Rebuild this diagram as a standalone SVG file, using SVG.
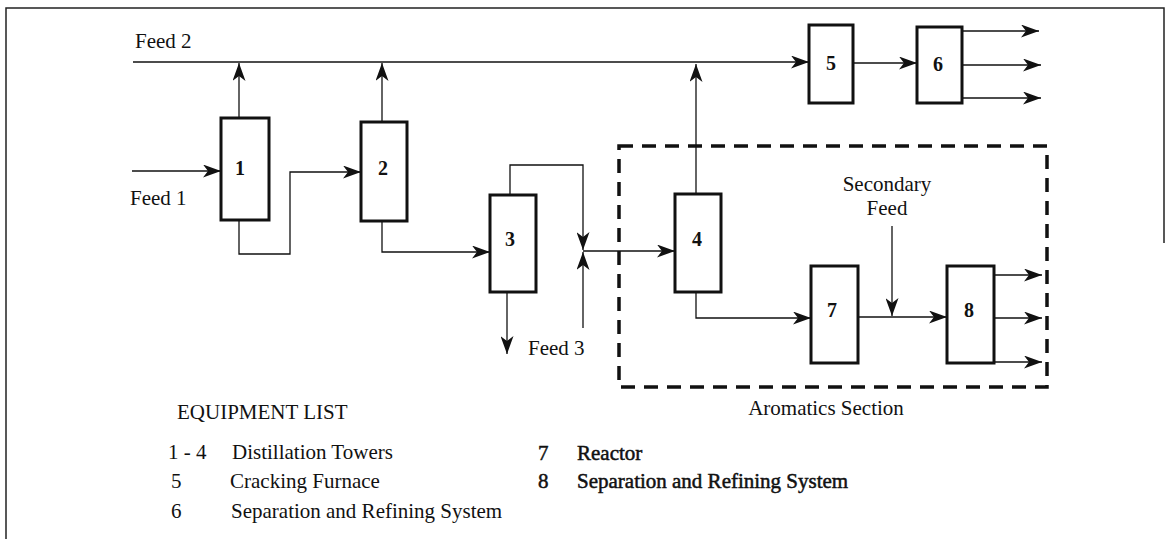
<svg xmlns="http://www.w3.org/2000/svg" width="1165" height="539" viewBox="0 0 1165 539">
<style>
text{font-family:"Liberation Serif","Times New Roman",serif;font-size:21px;fill:#111}
.num{font-weight:bold;text-anchor:middle;font-size:20px}
.b{stroke:#111;stroke-width:0.5}
.box{fill:#fff;stroke:#111;stroke-width:3}
.ln{fill:none;stroke:#111;stroke-width:1.3}
.arr{marker-end:url(#ah)}
.dash{fill:none;stroke:#111;stroke-width:3.5;stroke-dasharray:14 9}
.frame{fill:none;stroke:#222;stroke-width:1.5}
</style>
<defs>
<marker id="ah" viewBox="0 0 18 13" refX="18" refY="6.5" markerWidth="18" markerHeight="13" markerUnits="userSpaceOnUse" orient="auto">
<path d="M0,0 L18,6.5 L0,13 L5,6.5 z" fill="#111"/>
</marker>
</defs>
<rect width="1165" height="539" fill="#fff"/>
<g id="frame">
<polyline class="frame" points="6,539 6,8 1164,8 1164,243"/>
</g>
<g id="aromatics-section">
<rect class="dash" x="619" y="146" width="428" height="241"/>
<text x="826" y="415" text-anchor="middle">Aromatics Section</text>
</g>
<g id="connectors">
<line class="ln" x1="133" y1="62" x2="808" y2="62"/>
<line class="ln arr" x1="808" y1="62" x2="809" y2="62"/>
<line class="ln arr" x1="132" y1="171" x2="221" y2="171"/>
<line class="ln arr" x1="239" y1="118" x2="239" y2="63"/>
<polyline class="ln arr" points="239,220 239,254 290,254 290,172 361,172"/>
<line class="ln arr" x1="382" y1="122" x2="382" y2="63"/>
<polyline class="ln arr" points="382,221 382,252 490,252"/>
<polyline class="ln arr" points="510,195 510,165 583,165 583,250"/>
<line class="ln arr" x1="583" y1="328" x2="583" y2="252"/>
<line class="ln arr" x1="583" y1="251" x2="675" y2="251"/>
<line class="ln arr" x1="507" y1="292" x2="507" y2="354"/>
<line class="ln arr" x1="696" y1="194" x2="696" y2="64"/>
<line class="ln arr" x1="853" y1="63" x2="917" y2="63"/>
<line class="ln arr" x1="962" y1="31" x2="1039" y2="31"/>
<line class="ln arr" x1="962" y1="65" x2="1041" y2="65"/>
<line class="ln arr" x1="962" y1="98" x2="1041" y2="98"/>
<polyline class="ln arr" points="696,292 696,318 811,318"/>
<line class="ln arr" x1="892" y1="226" x2="892" y2="316"/>
<line class="ln arr" x1="858" y1="317" x2="947" y2="317"/>
<line class="ln arr" x1="994" y1="275" x2="1042" y2="275"/>
<line class="ln arr" x1="994" y1="318" x2="1042" y2="318"/>
<line class="ln arr" x1="994" y1="362" x2="1042" y2="362"/>
</g>
<g id="feed-labels">
<text x="135" y="48">Feed 2</text>
<text x="130" y="205">Feed 1</text>
<text x="528" y="355">Feed 3</text>
<text x="887" y="191" text-anchor="middle">Secondary</text>
<text x="887" y="215" text-anchor="middle">Feed</text>
</g>
<g id="node1"><rect class="box" x="221" y="118" width="48" height="102"/><text class="num" x="240" y="175">1</text></g>
<g id="node2"><rect class="box" x="361" y="122" width="46" height="99"/><text class="num" x="383" y="175">2</text></g>
<g id="node3"><rect class="box" x="490" y="195" width="46" height="97"/><text class="num" x="510" y="246">3</text></g>
<g id="node4"><rect class="box" x="675" y="194" width="46" height="98"/><text class="num" x="697" y="246">4</text></g>
<g id="node5"><rect class="box" x="809" y="25" width="44" height="78"/><text class="num" x="831" y="70">5</text></g>
<g id="node6"><rect class="box" x="917" y="27" width="45" height="76"/><text class="num" x="938" y="71">6</text></g>
<g id="node7"><rect class="box" x="811" y="266" width="47" height="97"/><text class="num" x="832" y="317">7</text></g>
<g id="node8"><rect class="box" x="947" y="266" width="47" height="97"/><text class="num" x="969" y="317">8</text></g>
<g id="legend">
<text x="177" y="419">EQUIPMENT LIST</text>
<text x="168" y="459">1 - 4</text>
<text x="232" y="459">Distillation Towers</text>
<text x="171" y="488">5</text>
<text x="230" y="488">Cracking Furnace</text>
<text x="171" y="518">6</text>
<text x="231" y="518">Separation and Refining System</text>
<text class="b" x="538" y="460">7</text>
<text class="b" x="577" y="460">Reactor</text>
<text class="b" x="538" y="488">8</text>
<text class="b" x="577" y="488">Separation and Refining System</text>
</g>
</svg>
